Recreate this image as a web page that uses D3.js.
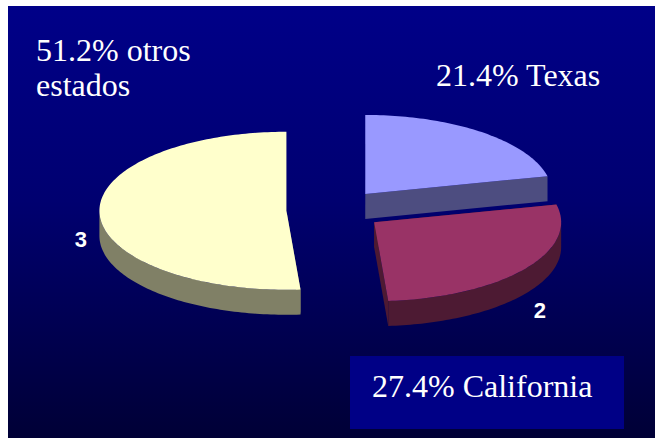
<!DOCTYPE html>
<html>
<head>
<meta charset="utf-8">
<script src="https://cdn.jsdelivr.net/npm/d3@7"></script>
<style>
  body { margin: 0; background: #ffffff; }
  svg { display: block; }
</style>
</head>
<body>
<div id="chart"></div>
<script>

// Chart data
var states = ["Texas", "California", "otros estados"];
var shares = [21.4, 27.4, 51.2];
var sliceNumbers = ["", "2", "3"];
var topColors = ["#9999ff", "#993366", "#ffffcc"];
var sideColors = ["#4d4d80", "#4d1a33", "#808066"];

// Text boxes
var labelLines = [["21.4% Texas"], ["27.4% California"], ["51.2% otros", "estados"]];

var width = 655,
    height = 439;

var svg = d3.select("#chart").append("svg")
    .attr("width", width)
    .attr("height", height);

// Background gradient
var defs = svg.append("defs");
var grad = defs.append("linearGradient")
    .attr("id", "bg")
    .attr("x1", 0).attr("y1", 0)
    .attr("x2", 0).attr("y2", 1);
grad.append("stop").attr("offset", "0%").attr("stop-color", "#000088");
grad.append("stop").attr("offset", "45%").attr("stop-color", "#000070");
grad.append("stop").attr("offset", "100%").attr("stop-color", "#000036");

svg.append("rect")
    .attr("x", 8)
    .attr("y", 6)
    .attr("width", width - 8)
    .attr("height", height - 7)
    .attr("fill", "url(#bg)");

// 3D pie settings
var cx = 335,
    cy = 210,
    rx = 187,
    ry = 79,
    depth = 25,
    explode = 0.26;

var pie = d3.pie().sort(null);
var arcs = pie(shares);

function point(c, a, dz) {
    return [c[0] + rx * Math.sin(a), c[1] - ry * Math.cos(a) + (dz || 0)];
}

function arcPoints(c, a0, a1, dz) {
    var n = Math.max(2, Math.ceil((a1 - a0) / 0.02));
    return d3.range(n + 1).map(function(i) {
        return point(c, a0 + (a1 - a0) * i / n, dz);
    });
}

var line = d3.line();

var slices = arcs.map(function(d, i) {
    var mid = (d.startAngle + d.endAngle) / 2;
    var c = [cx + explode * rx * Math.sin(mid), cy - explode * ry * Math.cos(mid)];
    return {arc: d, i: i, mid: mid, c: c};
});

// Back slices first
slices.sort(function(a, b) { return a.c[1] - b.c[1]; });

var pieG = svg.append("g").attr("class", "pie");

slices.forEach(function(s) {
    var g = pieG.append("g").attr("class", "slice");
    var a0 = s.arc.startAngle,
        a1 = s.arc.endAngle,
        c = s.c;

    // Radial walls
    [a0, a1].forEach(function(a) {
        var p = point(c, a, 0);
        g.append("path")
            .attr("d", line([c, p, [p[0], p[1] + depth], [c[0], c[1] + depth]]) + "Z")
            .attr("fill", sideColors[s.i]);
    });

    // Outer wall, only the front half
    var s0 = Math.max(a0, Math.PI / 2),
        s1 = Math.min(a1, Math.PI * 3 / 2);
    if (s1 > s0) {
        var topEdge = arcPoints(c, s0, s1, 0);
        var botEdge = arcPoints(c, s0, s1, depth).reverse();
        g.append("path")
            .attr("d", line(topEdge.concat(botEdge)) + "Z")
            .attr("fill", sideColors[s.i]);
    }

    // Top face
    g.append("path")
        .attr("d", line([c].concat(arcPoints(c, a0, a1, 0))) + "Z")
        .attr("fill", topColors[s.i]);
});

// Slice numbers, set out past the rim
slices.forEach(function(s) {
    if (!sliceNumbers[s.i]) return;
    svg.append("text")
        .attr("x", s.c[0] + 1.1 * rx * Math.sin(s.mid))
        .attr("y", s.c[1] + depth - 1.35 * ry * Math.cos(s.mid))
        .attr("dy", "0.35em")
        .style("text-anchor", "middle")
        .style("font-family", "'Liberation Sans', Arial, sans-serif")
        .style("font-weight", "bold")
        .style("font-size", "22px")
        .style("fill", "#ffffff")
        .text(sliceNumbers[s.i]);
});

// Box behind the California label
svg.append("rect")
    .attr("x", 350)
    .attr("y", 356)
    .attr("width", 274)
    .attr("height", 73)
    .attr("fill", "#000086");

var labelPos = [[436, 86], [372, 397], [36, 61]];

labelLines.forEach(function(lines, i) {
    var t = svg.append("text")
        .attr("x", labelPos[i][0])
        .attr("y", labelPos[i][1])
        .style("font-family", "'Liberation Serif', 'Times New Roman', serif")
        .style("font-size", "32px")
        .style("fill", "#ffffff");
    lines.forEach(function(l, j) {
        t.append("tspan")
            .attr("x", labelPos[i][0])
            .attr("dy", j === 0 ? 0 : 35)
            .text(l);
    });
});

</script>
</body>
</html>
